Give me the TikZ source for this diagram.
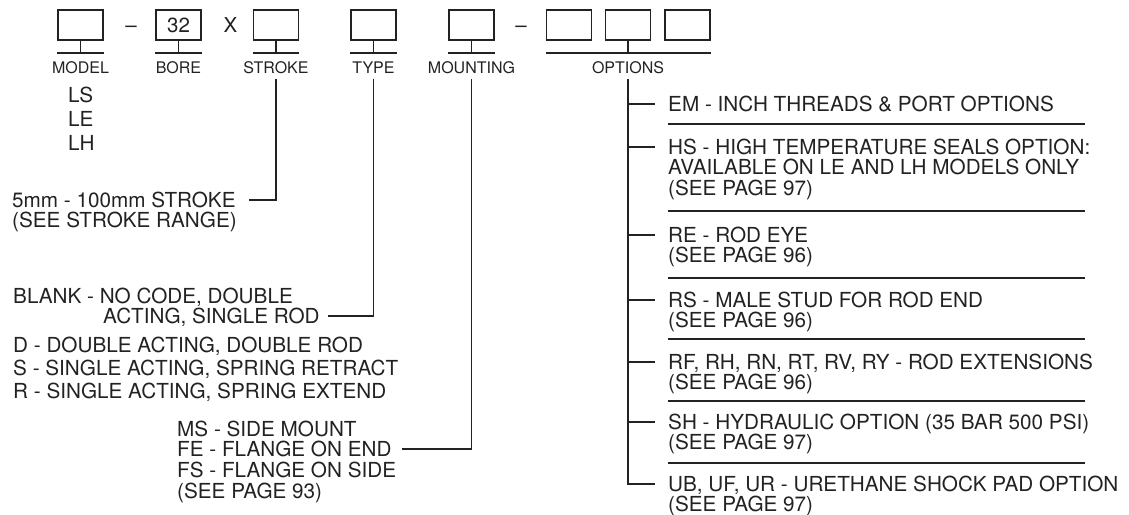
\documentclass[tikz,border=0pt]{standalone}
\usepackage{fontspec}
\setmainfont{TeX Gyre Heros}
\definecolor{ink}{HTML}{222222}
\begin{document}
\begin{tikzpicture}[x=1pt,y=-1pt,
  ln/.style={draw=ink,line width=1.1pt},
  codebox/.style={draw=ink,line width=1.1pt,minimum width=45pt,minimum height=30pt,inner sep=0pt,font=\fontsize{20.5}{20.7}\selectfont,text=ink},
  lbl/.style={inner sep=0pt,anchor=base,font=\fontsize{16}{18}\selectfont,text=ink},
  big/.style={inner sep=0pt,anchor=base,font=\fontsize{20.5}{20.7}\selectfont,text=ink},
  txt/.style={inner sep=0pt,anchor=base west,align=left,font=\fontsize{20.7}{20.7}\selectfont,text=ink},
]
\useasboundingbox (0,0) rectangle (1129,514);

% code boxes
\node[codebox] (bmodel) at (80.5,25) {};
\node[codebox] (bbore) at (178.5,25) {32};
\node[codebox] (bstroke) at (276,25) {};
\node[codebox] (btype) at (373.5,25) {};
\node[codebox] (bmount) at (471.5,25) {};
\node[codebox] (bopta) at (569,25) {};
\node[codebox] (boptb) at (628,25) {};
\node[codebox] (boptc) at (687.5,25) {};

% separators in the code
\node[big] (dasha) at (131,32) {–};
\node[big] (xsign) at (230.5,32) {X};
\node[big] (dashb) at (521,32) {–};

% stems and underlines
\foreach \b in {bmodel,bbore,bstroke,btype,bmount,boptb}{
  \draw[ln] (\b.south) -- (\b.south |- 0,53);
}
\foreach \b in {bmodel,bbore,bstroke,btype,bmount}{
  \draw[ln] (\b.south west |- 0,53) -- (\b.south east |- 0,53);
}
\draw[ln] (bopta.south west |- 0,53) -- (boptc.south east |- 0,53);

% labels
\node[lbl] (lmodel) at (80.5,73) {MODEL};
\node[lbl] (lbore) at (178.5,73) {BORE};
\node[lbl] (lstroke) at (276,73) {STROKE};
\node[lbl] (ltype) at (373.5,73) {TYPE};
\node[lbl] (lmount) at (471.5,73) {MOUNTING};
\node[lbl] (lopt) at (628,73) {OPTIONS};

% model list (anchor = baseline of last line)
\node[txt,font=\fontsize{20.7}{24}\selectfont] (models) at (68,150) {LS\\LE\\LH};

% stroke
\node[txt] (tstroke) at (12,227.7) {5mm - 100mm STROKE\\(SEE STROKE RANGE)};
\coordinate (sa) at (276,79);
\coordinate (sb) at (249,200);
\draw[ln] (sa) |- (sb);

% type
\node[txt] (tblank) at (13,323.7) {BLANK - NO CODE, DOUBLE\\\hspace*{90pt}ACTING, SINGLE ROD};
\node[txt,font=\fontsize{20.7}{23}\selectfont] (tdsr) at (13,398) {D - DOUBLE ACTING, DOUBLE ROD\\S - SINGLE ACTING, SPRING RETRACT\\R - SINGLE ACTING, SPRING EXTEND};
\coordinate (ta) at (373.5,79);
\coordinate (tb) at (328,316);
\draw[ln] (ta) |- (tb);

% mounting
\node[txt] (tmount) at (177,498.1) {MS - SIDE MOUNT\\FE - FLANGE ON END\\FS - FLANGE ON SIDE\\(SEE PAGE 93)};
\coordinate (ma) at (471.5,79);
\coordinate (mb) at (402,449);
\draw[ln] (ma) |- (mb);

% options
\coordinate (oa) at (628,79);
\coordinate (oz) at (655,484);
\draw[ln] (oa) |- (oz);
\foreach \y in {104,147,235,300,362,422}{
  \draw[ln] (628,\y) -- (655,\y);
}
\foreach \y in {124,211,278,339,401,463}{
  \draw[ln] (668,\y) -- (1085,\y);
}
\node[txt] (oem) at (668,111.5) {EM - INCH THREADS \& PORT OPTIONS};
\node[txt] (ohs) at (668,195.4) {HS - HIGH TEMPERATURE SEALS OPTION:\\AVAILABLE ON LE AND LH MODELS ONLY\\(SEE PAGE 97)};
\node[txt] (ore) at (668,262.7) {RE - ROD EYE\\(SEE PAGE 96)};
\node[txt] (ors) at (668,327.7) {RS - MALE STUD FOR ROD END\\(SEE PAGE 96)};
\node[txt] (orf) at (668,389.7) {RF, RH, RN, RT, RV, RY - ROD EXTENSIONS\\(SEE PAGE 96)};
\node[txt] (osh) at (668,449.7) {SH - HYDRAULIC OPTION (35 BAR 500 PSI)\\(SEE PAGE 97)};
\node[txt] (oub) at (668,511.7) {UB, UF, UR - URETHANE SHOCK PAD OPTION\\(SEE PAGE 97)};
\end{tikzpicture}
\end{document}
